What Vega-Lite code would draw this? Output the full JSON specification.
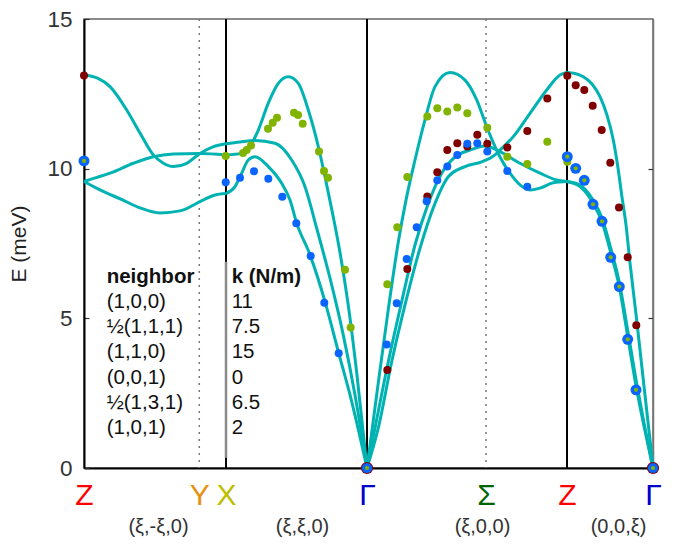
{
  "$schema": "https://vega.github.io/schema/vega-lite/v6.json",
  "width": 569,
  "height": 449,
  "autosize": {"type": "none"},
  "padding": {"left": 84, "top": 19, "right": 35, "bottom": 78},
  "background": "white",
  "config": {"view": {"stroke": "#666666", "strokeWidth": 1.5}, "font": "Liberation Sans"},
  "datasets": {
    "curves": [
      {"branch": "s1a", "q": 0, "E": 13.13}, {"branch": "s1a", "q": 13, "E": 13.03}, {"branch": "s1a", "q": 26, "E": 12.74}, {"branch": "s1a", "q": 42.7, "E": 11.96}, {"branch": "s1a", "q": 56, "E": 11.19}, {"branch": "s1a", "q": 69.3, "E": 10.46}, {"branch": "s1a", "q": 79, "E": 10.19}, {"branch": "s1a", "q": 89.3, "E": 10.07}, {"branch": "s1a", "q": 102.7, "E": 10.18}, {"branch": "s1a", "q": 116, "E": 10.51}, {"branch": "s1a", "q": 129, "E": 10.73}, {"branch": "s1a", "q": 142, "E": 10.83},
      {"branch": "s1b", "q": 0, "E": 9.57}, {"branch": "s1b", "q": 13, "E": 9.71}, {"branch": "s1b", "q": 26, "E": 9.85}, {"branch": "s1b", "q": 49.3, "E": 10.18}, {"branch": "s1b", "q": 69.3, "E": 10.40}, {"branch": "s1b", "q": 89.3, "E": 10.49}, {"branch": "s1b", "q": 116, "E": 10.51}, {"branch": "s1b", "q": 142, "E": 10.46},
      {"branch": "s1c", "q": 0, "E": 9.57}, {"branch": "s1c", "q": 16, "E": 9.29}, {"branch": "s1c", "q": 39, "E": 8.95}, {"branch": "s1c", "q": 56, "E": 8.69}, {"branch": "s1c", "q": 76, "E": 8.52}, {"branch": "s1c", "q": 96, "E": 8.59}, {"branch": "s1c", "q": 119, "E": 8.95}, {"branch": "s1c", "q": 131, "E": 9.12}, {"branch": "s1c", "q": 142, "E": 9.17},
      {"branch": "s2a", "q": 142, "E": 10.83}, {"branch": "s2a", "q": 156, "E": 10.89}, {"branch": "s2a", "q": 171, "E": 10.94}, {"branch": "s2a", "q": 191, "E": 10.85}, {"branch": "s2a", "q": 207.7, "E": 10.29}, {"branch": "s2a", "q": 221, "E": 9.40}, {"branch": "s2a", "q": 232.7, "E": 8.01}, {"branch": "s2a", "q": 246, "E": 6.34}, {"branch": "s2a", "q": 259.3, "E": 4.44}, {"branch": "s2a", "q": 271, "E": 2.44}, {"branch": "s2a", "q": 283, "E": 0},
      {"branch": "s2b", "q": 142, "E": 10.46}, {"branch": "s2b", "q": 157.7, "E": 10.51}, {"branch": "s2b", "q": 166, "E": 10.74}, {"branch": "s2b", "q": 174.3, "E": 11.29}, {"branch": "s2b", "q": 184.3, "E": 12.19}, {"branch": "s2b", "q": 194.3, "E": 12.85}, {"branch": "s2b", "q": 204.3, "E": 13.07}, {"branch": "s2b", "q": 214.3, "E": 12.85}, {"branch": "s2b", "q": 224.3, "E": 11.96}, {"branch": "s2b", "q": 234.3, "E": 10.74}, {"branch": "s2b", "q": 241, "E": 9.73}, {"branch": "s2b", "q": 248, "E": 8.6}, {"branch": "s2b", "q": 256, "E": 7.2}, {"branch": "s2b", "q": 264, "E": 5.5}, {"branch": "s2b", "q": 273, "E": 3.1}, {"branch": "s2b", "q": 283, "E": 0},
      {"branch": "s2c", "q": 142, "E": 9.17}, {"branch": "s2c", "q": 151, "E": 9.40}, {"branch": "s2c", "q": 157.7, "E": 9.85}, {"branch": "s2c", "q": 164.3, "E": 10.29}, {"branch": "s2c", "q": 171, "E": 10.40}, {"branch": "s2c", "q": 184.3, "E": 10.07}, {"branch": "s2c", "q": 197.7, "E": 9.51}, {"branch": "s2c", "q": 206, "E": 8.95}, {"branch": "s2c", "q": 212.7, "E": 8.18}, {"branch": "s2c", "q": 226, "E": 7.12}, {"branch": "s2c", "q": 241, "E": 5.56}, {"branch": "s2c", "q": 254.3, "E": 3.89}, {"branch": "s2c", "q": 267.7, "E": 2.22}, {"branch": "s2c", "q": 283, "E": 0},
      {"branch": "s3a", "q": 283, "E": 0}, {"branch": "s3a", "q": 294.3, "E": 2.85}, {"branch": "s3a", "q": 304.3, "E": 5.3}, {"branch": "s3a", "q": 314.3, "E": 7.55}, {"branch": "s3a", "q": 322, "E": 8.95}, {"branch": "s3a", "q": 331, "E": 10.29}, {"branch": "s3a", "q": 341, "E": 11.63}, {"branch": "s3a", "q": 351, "E": 12.74}, {"branch": "s3a", "q": 366, "E": 13.21}, {"branch": "s3a", "q": 381, "E": 12.96}, {"branch": "s3a", "q": 392.7, "E": 12.30}, {"branch": "s3a", "q": 402.7, "E": 11.40}, {"branch": "s3a", "q": 411, "E": 10.74}, {"branch": "s3a", "q": 416, "E": 10.39}, {"branch": "s3a", "q": 426, "E": 9.85}, {"branch": "s3a", "q": 436, "E": 9.46}, {"branch": "s3a", "q": 446, "E": 9.29}, {"branch": "s3a", "q": 456, "E": 9.35}, {"branch": "s3a", "q": 469.3, "E": 9.53}, {"branch": "s3a", "q": 483, "E": 9.57},
      {"branch": "s3b", "q": 283, "E": 0}, {"branch": "s3b", "q": 291, "E": 1.34}, {"branch": "s3b", "q": 304.3, "E": 3.55}, {"branch": "s3b", "q": 317.7, "E": 5.56}, {"branch": "s3b", "q": 331, "E": 7.45}, {"branch": "s3b", "q": 344.3, "E": 8.84}, {"branch": "s3b", "q": 357.7, "E": 9.85}, {"branch": "s3b", "q": 371, "E": 10.39}, {"branch": "s3b", "q": 386, "E": 10.62}, {"branch": "s3b", "q": 401, "E": 10.76}, {"branch": "s3b", "q": 416, "E": 10.57}, {"branch": "s3b", "q": 436, "E": 10.18}, {"branch": "s3b", "q": 456, "E": 9.85}, {"branch": "s3b", "q": 472.7, "E": 9.62}, {"branch": "s3b", "q": 483, "E": 9.57},
      {"branch": "s3c", "q": 283, "E": 0}, {"branch": "s3c", "q": 294.3, "E": 1.34}, {"branch": "s3c", "q": 307.7, "E": 3.55}, {"branch": "s3c", "q": 321, "E": 5.45}, {"branch": "s3c", "q": 336, "E": 7.34}, {"branch": "s3c", "q": 351, "E": 8.84}, {"branch": "s3c", "q": 364.3, "E": 9.73}, {"branch": "s3c", "q": 381, "E": 10.07}, {"branch": "s3c", "q": 397.7, "E": 10.23}, {"branch": "s3c", "q": 411, "E": 10.46}, {"branch": "s3c", "q": 416, "E": 10.62}, {"branch": "s3c", "q": 429.3, "E": 11.07}, {"branch": "s3c", "q": 446, "E": 11.85}, {"branch": "s3c", "q": 462.7, "E": 12.63}, {"branch": "s3c", "q": 476, "E": 13.13}, {"branch": "s3c", "q": 483, "E": 13.21},
      {"branch": "s4a", "q": 483, "E": 13.21}, {"branch": "s4a", "q": 491, "E": 13.18}, {"branch": "s4a", "q": 499.3, "E": 13.07}, {"branch": "s4a", "q": 508, "E": 12.83}, {"branch": "s4a", "q": 516, "E": 12.41}, {"branch": "s4a", "q": 523, "E": 11.79}, {"branch": "s4a", "q": 529.3, "E": 10.96}, {"branch": "s4a", "q": 534, "E": 10.02}, {"branch": "s4a", "q": 537.7, "E": 9.12}, {"branch": "s4a", "q": 542, "E": 8.12}, {"branch": "s4a", "q": 546, "E": 6.85}, {"branch": "s4a", "q": 552.7, "E": 4.94}, {"branch": "s4a", "q": 559.3, "E": 2.94}, {"branch": "s4a", "q": 566, "E": 0.94}, {"branch": "s4a", "q": 569, "E": 0},
      {"branch": "s4b", "q": 483, "E": 9.57}, {"branch": "s4b", "q": 496, "E": 9.40}, {"branch": "s4b", "q": 509, "E": 8.85}, {"branch": "s4b", "q": 518, "E": 8.22}, {"branch": "s4b", "q": 526.7, "E": 7.2}, {"branch": "s4b", "q": 535.3, "E": 6.05}, {"branch": "s4b", "q": 543.7, "E": 4.4}, {"branch": "s4b", "q": 552, "E": 2.75}, {"branch": "s4b", "q": 560, "E": 1.4}, {"branch": "s4b", "q": 569, "E": 0},
      {"branch": "s4c", "q": 483, "E": 9.57}, {"branch": "s4c", "q": 496, "E": 9.45}, {"branch": "s4c", "q": 509, "E": 8.95}, {"branch": "s4c", "q": 518, "E": 8.35}, {"branch": "s4c", "q": 526.7, "E": 7.35}, {"branch": "s4c", "q": 535.3, "E": 6.2}, {"branch": "s4c", "q": 543.7, "E": 4.6}, {"branch": "s4c", "q": 552, "E": 2.95}, {"branch": "s4c", "q": 560, "E": 1.5}, {"branch": "s4c", "q": 569, "E": 0}
    ],
    "pts": [
      {"series": "L", "q": 0, "E": 13.11}, {"series": "L", "q": 303.3, "E": 3.27}, {"series": "L", "q": 323.3, "E": 6.65}, {"series": "L", "q": 343.3, "E": 9.07}, {"series": "L", "q": 353.3, "E": 9.88}, {"series": "L", "q": 363.3, "E": 10.62}, {"series": "L", "q": 373.3, "E": 10.85}, {"series": "L", "q": 383.3, "E": 10.74}, {"series": "L", "q": 393.3, "E": 11.13}, {"series": "L", "q": 403.3, "E": 10.83}, {"series": "L", "q": 423.3, "E": 10.71}, {"series": "L", "q": 443.3, "E": 11.26}, {"series": "L", "q": 463.3, "E": 12.34}, {"series": "L", "q": 483.3, "E": 13.10}, {"series": "L", "q": 491.7, "E": 12.79}, {"series": "L", "q": 500.3, "E": 12.63}, {"series": "L", "q": 508.7, "E": 12.10}, {"series": "L", "q": 517.7, "E": 11.29}, {"series": "L", "q": 526.3, "E": 10.20}, {"series": "L", "q": 535, "E": 8.70}, {"series": "L", "q": 543.7, "E": 7.04}, {"series": "L", "q": 552.3, "E": 4.77},
      {"series": "T1", "q": 141.7, "E": 10.42}, {"series": "T1", "q": 159, "E": 10.52}, {"series": "T1", "q": 162.7, "E": 10.62}, {"series": "T1", "q": 167, "E": 10.77}, {"series": "T1", "q": 184, "E": 11.33}, {"series": "T1", "q": 188.7, "E": 11.53}, {"series": "T1", "q": 193, "E": 11.70}, {"series": "T1", "q": 210, "E": 11.87}, {"series": "T1", "q": 214, "E": 11.79}, {"series": "T1", "q": 218.7, "E": 11.50}, {"series": "T1", "q": 235, "E": 10.57}, {"series": "T1", "q": 240, "E": 9.92}, {"series": "T1", "q": 244, "E": 9.70}, {"series": "T1", "q": 261, "E": 6.62}, {"series": "T1", "q": 266.7, "E": 4.69}, {"series": "T1", "q": 303.3, "E": 6.14}, {"series": "T1", "q": 313.3, "E": 8.04}, {"series": "T1", "q": 323.3, "E": 9.72}, {"series": "T1", "q": 343.3, "E": 11.74}, {"series": "T1", "q": 353.3, "E": 12.02}, {"series": "T1", "q": 363.3, "E": 11.91}, {"series": "T1", "q": 373.3, "E": 12.04}, {"series": "T1", "q": 383.3, "E": 11.85}, {"series": "T1", "q": 403.3, "E": 11.37}, {"series": "T1", "q": 423.3, "E": 10.40}, {"series": "T1", "q": 443.3, "E": 10.16}, {"series": "T1", "q": 463.3, "E": 10.90}, {"series": "T1", "q": 483.3, "E": 10.23},
      {"series": "T2", "q": 141.7, "E": 9.55}, {"series": "T2", "q": 156, "E": 9.70}, {"series": "T2", "q": 170, "E": 9.91}, {"series": "T2", "q": 184.3, "E": 9.66}, {"series": "T2", "q": 198.3, "E": 9.06}, {"series": "T2", "q": 212.3, "E": 8.18}, {"series": "T2", "q": 226.7, "E": 7.08}, {"series": "T2", "q": 240.3, "E": 5.52}, {"series": "T2", "q": 254.7, "E": 3.83}, {"series": "T2", "q": 302.7, "E": 4.13}, {"series": "T2", "q": 312.7, "E": 5.50}, {"series": "T2", "q": 322.7, "E": 6.98}, {"series": "T2", "q": 332.7, "E": 8.04}, {"series": "T2", "q": 342.7, "E": 8.91}, {"series": "T2", "q": 353.3, "E": 9.61}, {"series": "T2", "q": 363.3, "E": 10.07}, {"series": "T2", "q": 373.3, "E": 10.46}, {"series": "T2", "q": 383.3, "E": 10.83}, {"series": "T2", "q": 393.3, "E": 10.85}, {"series": "T2", "q": 403.3, "E": 10.57}, {"series": "T2", "q": 423.3, "E": 9.92}, {"series": "T2", "q": 443.3, "E": 9.40}
    ],
    "deg": [
      {"q": 0, "E": 10.26}, {"q": 483.3, "E": 10.40}, {"q": 491.7, "E": 10.01}, {"q": 500.3, "E": 9.61}, {"q": 509, "E": 8.81}, {"q": 518, "E": 8.24}, {"q": 526.7, "E": 7.04}, {"q": 535.3, "E": 6.06}, {"q": 543.7, "E": 4.30}, {"q": 552, "E": 2.61}
    ],
    "gamma": [{"q": 283, "E": 0}, {"q": 569, "E": 0}],
    "bounds": [{"q": 142}, {"q": 283}, {"q": 483}],
    "mids": [{"q": 115.3}, {"q": 402}],
    "sep": [{"q": 142, "E0": 0.34, "E1": 6.89}],
    "table": [
      {"row": 0, "neighbor": "neighbor", "k": "k (N/m)"},
      {"row": 1, "neighbor": "(1,0,0)", "k": "11"},
      {"row": 2, "neighbor": "½(1,1,1)", "k": "7.5"},
      {"row": 3, "neighbor": "(1,1,0)", "k": "15"},
      {"row": 4, "neighbor": "(0,0,1)", "k": "0"},
      {"row": 5, "neighbor": "½(1,3,1)", "k": "6.5"},
      {"row": 6, "neighbor": "(1,0,1)", "k": "2"}
    ]
  },
  "layer": [
    {
      "layer": [
        {
          "data": {"name": "mids"},
          "mark": {"type": "rule", "color": "#777777", "strokeWidth": 1.5, "strokeDash": [2, 5]},
          "encoding": {"x": {"field": "q", "type": "quantitative", "scale": {"domain": [0, 569], "nice": false, "zero": false}, "axis": null}}
        },
        {
          "data": {"name": "bounds"},
          "mark": {"type": "rule", "color": "black", "strokeWidth": 2},
          "encoding": {"x": {"field": "q", "type": "quantitative", "scale": {"domain": [0, 569], "nice": false, "zero": false}, "axis": null}}
        },
        {
          "data": {"name": "sep"},
          "mark": {"type": "rule", "color": "#8a8a8a", "strokeWidth": 2.5},
          "encoding": {
            "x": {"field": "q", "type": "quantitative", "scale": {"domain": [0, 569], "nice": false, "zero": false}, "axis": null},
            "y": {"field": "E0", "type": "quantitative", "scale": {"domain": [0, 15], "nice": false, "zero": false}, "axis": null},
            "y2": {"field": "E1"}
          }
        },
        {
          "data": {"name": "curves"},
          "mark": {"type": "line", "interpolate": "monotone", "color": "#00b2b2", "strokeWidth": 3},
          "encoding": {
            "x": {"field": "q", "type": "quantitative", "scale": {"domain": [0, 569], "nice": false, "zero": false},
              "axis": {
                "orient": "bottom", "title": null, "grid": false, "ticks": false, "domainColor": "black", "domainWidth": 2,
                "values": [0, 115.3, 142, 283, 402, 483, 569],
                "labelExpr": "datum.value < 1 ? 'Z' : datum.value < 120 ? 'Y' : datum.value < 150 ? 'X' : datum.value < 300 ? 'Γ' : datum.value < 450 ? 'Σ' : datum.value < 500 ? 'Z' : 'Γ'",
                "labelColor": {"condition": [
                  {"test": "datum.value < 1 || (datum.value > 450 && datum.value < 500)", "value": "#ff0000"},
                  {"test": "datum.value > 100 && datum.value < 120", "value": "#e8900e"},
                  {"test": "datum.value > 120 && datum.value < 150", "value": "#bdbd00"},
                  {"test": "datum.value > 350 && datum.value < 450", "value": "#006400"}
                ], "value": "#0000cc"},
                "labelFontSize": 30, "labelPadding": 12, "labelFont": "Liberation Sans",
                "labelFlush": false, "labelOverlap": false, "labelBound": false
              }
            },
            "y": {"field": "E", "type": "quantitative", "scale": {"domain": [0, 15], "nice": false, "zero": false},
              "axis": {
                "orient": "left", "title": "E (meV)", "titleFontSize": 21, "titleFontWeight": "normal", "titleColor": "#222222", "titleFont": "Liberation Sans", "titlePadding": 17,
                "values": [0, 5, 10, 15], "grid": false, "tickSize": -5, "tickColor": "#333333", "tickWidth": 1.2,
                "domainColor": "black", "domainWidth": 2,
                "labelFontSize": 22.5, "labelColor": "#333333", "labelPadding": 17, "labelFont": "Liberation Sans",
                "labelFlush": false, "labelOverlap": false, "labelBound": false
              }
            },
            "detail": {"field": "branch", "type": "nominal"}
          }
        },
        {
          "data": {"name": "pts"},
          "mark": {"type": "circle", "size": 64, "opacity": 1},
          "encoding": {
            "x": {"field": "q", "type": "quantitative", "scale": {"domain": [0, 569], "nice": false, "zero": false},
              "axis": {
                "orient": "bottom", "title": null, "grid": false, "ticks": false, "domain": false,
                "values": [74, 218, 398, 534],
                "labelExpr": "datum.value < 100 ? '(ξ,-ξ,0)' : datum.value < 300 ? '(ξ,ξ,0)' : datum.value < 450 ? '(ξ,0,0)' : '(0,0,ξ)'",
                "labelFontSize": 20, "labelColor": "#333333", "labelPadding": 48, "labelFont": "Liberation Sans",
                "labelFlush": false, "labelOverlap": false, "labelBound": false
              }
            },
            "y": {"field": "E", "type": "quantitative", "scale": {"domain": [0, 15], "nice": false, "zero": false},
              "axis": {
                "orient": "right", "title": null, "labels": false, "values": [5, 10], "grid": false,
                "tickSize": -5, "tickColor": "#333333", "tickWidth": 1.2, "domainColor": "#777777", "domainWidth": 1.5
              }
            },
            "color": {"field": "series", "type": "nominal", "scale": {"domain": ["L", "T1", "T2"], "range": ["#800000", "#80b400", "#0a64ff"]}, "legend": null}
          }
        },
        {
          "data": {"name": "gamma"},
          "mark": {"type": "circle", "size": 150, "opacity": 1, "color": "#800000"},
          "encoding": {
            "x": {"field": "q", "type": "quantitative", "scale": {"domain": [0, 569], "nice": false, "zero": false}, "axis": null},
            "y": {"field": "E", "type": "quantitative", "scale": {"domain": [0, 15], "nice": false, "zero": false}, "axis": null}
          }
        },
        {
          "data": {"name": "gamma"},
          "mark": {"type": "circle", "size": 105, "opacity": 1, "color": "#0a64ff"},
          "encoding": {
            "x": {"field": "q", "type": "quantitative", "scale": {"domain": [0, 569], "nice": false, "zero": false}, "axis": null},
            "y": {"field": "E", "type": "quantitative", "scale": {"domain": [0, 15], "nice": false, "zero": false}, "axis": null}
          }
        },
        {
          "data": {"name": "deg"},
          "mark": {"type": "circle", "size": 120, "opacity": 1, "color": "#0a64ff"},
          "encoding": {
            "x": {"field": "q", "type": "quantitative", "scale": {"domain": [0, 569], "nice": false, "zero": false}, "axis": null},
            "y": {"field": "E", "type": "quantitative", "scale": {"domain": [0, 15], "nice": false, "zero": false}, "axis": null}
          }
        },
        {
          "data": {"name": "deg"},
          "mark": {"type": "circle", "size": 18, "opacity": 1, "color": "#80b400"},
          "encoding": {
            "x": {"field": "q", "type": "quantitative", "scale": {"domain": [0, 569], "nice": false, "zero": false}, "axis": null},
            "y": {"field": "E", "type": "quantitative", "scale": {"domain": [0, 15], "nice": false, "zero": false}, "axis": null}
          }
        },
        {
          "data": {"name": "gamma"},
          "mark": {"type": "circle", "size": 18, "opacity": 1, "color": "#80b400"},
          "encoding": {
            "x": {"field": "q", "type": "quantitative", "scale": {"domain": [0, 569], "nice": false, "zero": false}, "axis": null},
            "y": {"field": "E", "type": "quantitative", "scale": {"domain": [0, 15], "nice": false, "zero": false}, "axis": null}
          }
        }
      ],
      "resolve": {"axis": {"x": "independent", "y": "independent"}}
    },
    {
      "data": {"name": "table"},
      "layer": [
        {
          "transform": [{"filter": "datum.row === 0"}],
          "mark": {"type": "text", "align": "left", "baseline": "middle", "fontSize": 20.5, "fontWeight": "bold", "color": "#111111", "font": "Liberation Sans"},
          "encoding": {
            "x": {"datum": 22.7, "type": "quantitative", "scale": {"domain": [0, 569], "nice": false, "zero": false}, "axis": null},
            "y": {"field": "row", "type": "quantitative", "scale": {"domain": [-10.27, 7.6], "reverse": true, "nice": false, "zero": false}, "axis": null},
            "text": {"field": "neighbor"}
          }
        },
        {
          "transform": [{"filter": "datum.row === 0"}],
          "mark": {"type": "text", "align": "left", "baseline": "middle", "fontSize": 20.5, "fontWeight": "bold", "color": "#111111", "font": "Liberation Sans"},
          "encoding": {
            "x": {"datum": 147.7, "type": "quantitative", "scale": {"domain": [0, 569], "nice": false, "zero": false}, "axis": null},
            "y": {"field": "row", "type": "quantitative", "scale": {"domain": [-10.27, 7.6], "reverse": true, "nice": false, "zero": false}, "axis": null},
            "text": {"field": "k"}
          }
        },
        {
          "transform": [{"filter": "datum.row > 0"}],
          "mark": {"type": "text", "align": "left", "baseline": "middle", "fontSize": 20.5, "color": "#111111", "font": "Liberation Sans"},
          "encoding": {
            "x": {"datum": 22.7, "type": "quantitative", "scale": {"domain": [0, 569], "nice": false, "zero": false}, "axis": null},
            "y": {"field": "row", "type": "quantitative", "scale": {"domain": [-10.27, 7.6], "reverse": true, "nice": false, "zero": false}, "axis": null},
            "text": {"field": "neighbor"}
          }
        },
        {
          "transform": [{"filter": "datum.row > 0"}],
          "mark": {"type": "text", "align": "left", "baseline": "middle", "fontSize": 20.5, "color": "#111111", "font": "Liberation Sans"},
          "encoding": {
            "x": {"datum": 147.7, "type": "quantitative", "scale": {"domain": [0, 569], "nice": false, "zero": false}, "axis": null},
            "y": {"field": "row", "type": "quantitative", "scale": {"domain": [-10.27, 7.6], "reverse": true, "nice": false, "zero": false}, "axis": null},
            "text": {"field": "k"}
          }
        }
      ]
    }
  ],
  "resolve": {"scale": {"y": "independent"}, "axis": {"y": "independent"}}
}
